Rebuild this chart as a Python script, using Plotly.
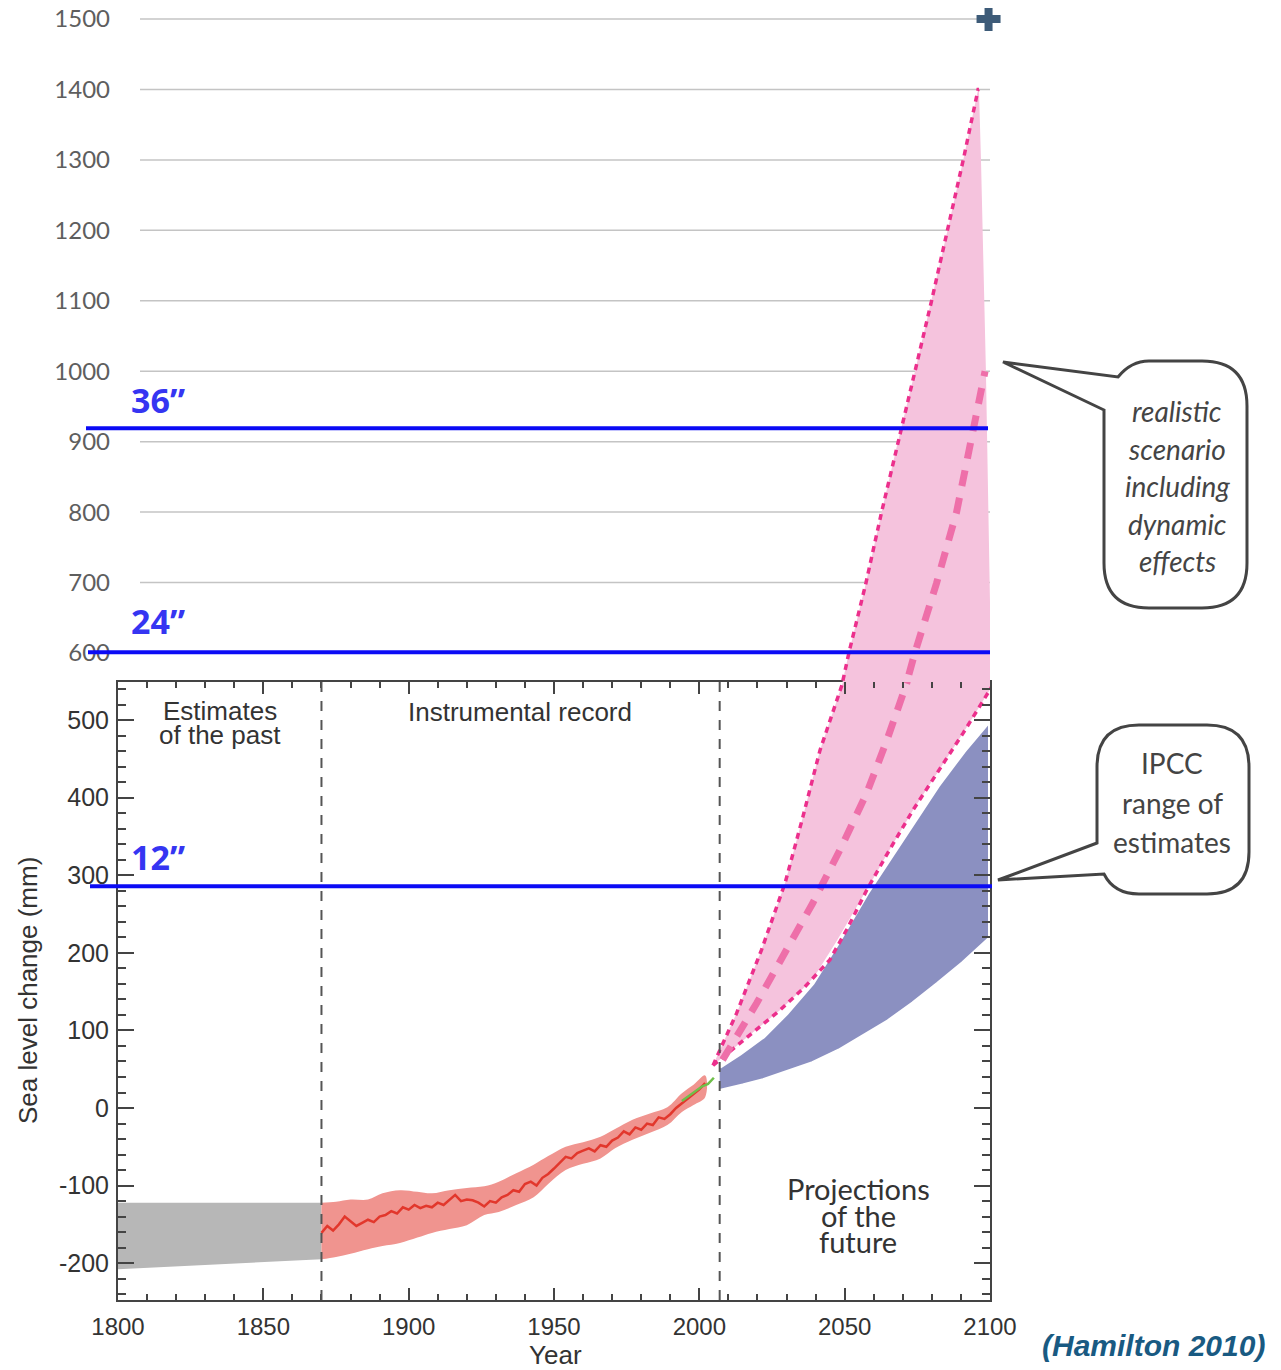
import plotly.graph_objects as go

# ---------------- data ----------------
gray_years = [1800, 1870]
gray_top = [-122, -122]
gray_bot = [-208, -195]

red_band_years = [1870, 1875, 1880, 1886, 1891, 1897, 1903, 1908, 1914, 1920, 1926, 1931, 1937, 1943, 1948, 1954, 1960, 1966, 1971, 1977, 1983, 1989, 1994, 1998, 2002]
red_band_top = [-122, -121, -118, -118, -110, -106, -108, -110, -106, -103, -101, -95, -84, -73, -62, -50, -44, -37, -27, -15, -7, 1, 19, 30, 42]
red_band_bot = [-195, -192, -188, -182, -178, -174, -167, -161, -156, -151, -138, -134, -125, -115, -98, -80, -72, -65, -52, -41, -32, -22, -5, 4, 14]

red_years = [1870, 1872, 1874, 1876, 1878, 1880, 1882, 1884, 1886, 1888, 1890, 1892, 1894, 1896, 1898,
             1900, 1902, 1904, 1906, 1908, 1910, 1912, 1914, 1916, 1918, 1920, 1922, 1924, 1926, 1928,
             1930, 1932, 1934, 1936, 1938, 1940, 1942, 1944, 1946, 1948, 1950, 1952, 1954, 1956, 1958,
             1960, 1962, 1964, 1966, 1968, 1970, 1972, 1974, 1976, 1978, 1980, 1982, 1984, 1986, 1988,
             1990, 1992, 1994, 1996, 1998, 2000, 2002]
red_vals = [-161, -152, -158, -150, -140, -146, -152, -148, -144, -147, -140, -138, -133, -136, -128,
            -131, -125, -129, -126, -128, -122, -125, -118, -112, -120, -118, -119, -122, -127, -120,
            -122, -115, -112, -106, -108, -98, -95, -100, -90, -85, -78, -70, -63, -65, -58,
            -55, -52, -56, -48, -50, -42, -38, -30, -34, -25, -28, -20, -22, -12, -14,
            -8, 0, 6, 12, 18, 24, 32]

green_years = [1994, 1997, 1999, 2001, 2003, 2005]
green_vals = [9, 17, 22, 28, 31, 39]

# IPCC range (blue)
ipcc_years = [2007, 2014, 2022, 2030, 2039, 2048, 2057.7, 2066, 2074, 2082, 2091, 2100]
ipcc_upper = [53, 70, 92, 122, 161, 215, 277, 324, 370, 415, 460, 500]
ipcc_lower_years = [2007, 2015, 2022, 2030, 2039, 2048, 2056, 2065, 2073.5, 2082, 2090.7, 2100]
ipcc_lower = [22, 29, 36, 46, 58, 74, 92, 112, 135, 160, 187, 219]

# realistic scenario (pink) - lower panel scale
hi_years = [2004.7, 2012.8, 2021.4, 2029.5, 2035.6, 2041.5, 2049.4, 2051.0]
hi_vals = [55, 122, 204, 290, 375, 461, 549, 572]
lo_years = [2004.7, 2016, 2027.7, 2036, 2044.9, 2051, 2057.6, 2065, 2073.5, 2082, 2090.7, 2100.6]
lo_vals = [55, 90, 126, 155, 191, 232, 281, 330, 384, 433, 483, 543]
mid_years = [2008, 2019.7, 2030, 2039, 2048.4, 2057.6, 2064.5, 2071.4, 2072.6]
mid_vals = [62, 135, 204, 264, 333, 406, 474, 548, 570]

# realistic scenario (pink) - upper panel scale
hi2_years = [2048.0, 2049.3, 2051.5, 2057.3, 2062.7, 2068.3, 2074.2, 2079.9, 2085.4, 2090.8, 2095.9, 2096.2]
hi2_vals = [530, 559, 601, 699, 800, 900, 1000, 1100, 1200, 1300, 1400, 1400]
edge2_years = [2096.2, 2096.9, 2098.6, 2100.6, 2100.6]
edge2_vals = [1400, 1300, 1000, 559, 530]
mid2_years = [2070.8, 2071.4, 2074.2, 2081.6, 2088.5, 2094.1, 2096.5, 2098.3]
mid2_vals = [530, 559, 601, 699, 800, 919, 965, 1000]

# reference levels (blue lines), drawn position in mm
ref_labels = ["36\u201d", "24\u201d", "12\u201d"]
ref_levels = [919, 601, 286]
ref_panel = ["y2", "y2", "y"]

upper_ticks = [600, 700, 800, 900, 1000, 1100, 1200, 1300, 1400, 1500]
upper_ticktext = ["600", "700", "800", "900", "1000", "1100", "1200", "1300", "1400", "1500"]
lower_ticks = [-200, -100, 0, 100, 200, 300, 400, 500]
lower_ticktext = ["-200", "-100", "0", "100", "200", "300", "400", "500"]
x_ticks = [1800, 1850, 1900, 1950, 2000, 2050, 2100]
divider_years = [1870, 2007]

# ---------------- geometry helpers (page pixel -> paper) ----------------
OFF = 8  # default body margin of the html page
W, H = 1281 - OFF, 1370 - OFF
PL, PR, PT, PB = 118, 990, 10, 1300
def px(x):
    return (x - PL) / (PR - PL)
def py(y):
    return (PB - y) / (PB - PT)

lower_top_frac = py(682)

fig = go.Figure()

GRAY = "#b7b7b7"
RED_BAND = "#f0948f"
RED = "#e2372c"
GREEN = "#6fbf4a"
BLUE_FILL = "#8b90c1"
PINK_FILL = "#f5c3dd"
PINK_DOT = "#ec2f8c"
PINK_MID = "#ee6fa9"

fig.add_trace(go.Scatter(x=gray_years + gray_years[::-1], y=gray_top + gray_bot[::-1],
                         fill="toself", fillcolor=GRAY, line=dict(width=0), mode="lines",
                         hoverinfo="skip", xaxis="x", yaxis="y"))
fig.add_trace(go.Scatter(x=red_band_years + red_band_years[::-1], y=red_band_top + red_band_bot[::-1],
                         fill="toself", fillcolor=RED_BAND, line=dict(width=0, shape="spline"), mode="lines",
                         hoverinfo="skip", xaxis="x", yaxis="y"))
fig.add_trace(go.Scatter(x=red_years, y=red_vals, mode="lines", line=dict(color=RED, width=2.5),
                         xaxis="x", yaxis="y"))
fig.add_trace(go.Scatter(x=green_years, y=green_vals, mode="lines", line=dict(color=GREEN, width=2.5),
                         xaxis="x", yaxis="y"))

px_poly = hi_years + [2101, 2101] + lo_years[::-1]
py_poly = hi_vals + [572, 543] + lo_vals[::-1]
fig.add_trace(go.Scatter(x=px_poly, y=py_poly, fill="toself", fillcolor=PINK_FILL, line=dict(width=0),
                         mode="lines", hoverinfo="skip", xaxis="x", yaxis="y"))
fig.add_trace(go.Scatter(x=ipcc_years + ipcc_lower_years[::-1], y=ipcc_upper + ipcc_lower[::-1],
                         fill="toself", fillcolor=BLUE_FILL, line=dict(width=4, color="white"),
                         mode="lines", hoverinfo="skip", xaxis="x", yaxis="y"))
fig.add_trace(go.Scatter(x=hi_years, y=hi_vals, mode="lines",
                         line=dict(color=PINK_DOT, width=3.5, dash="6px,5px"), xaxis="x", yaxis="y"))
fig.add_trace(go.Scatter(x=lo_years, y=lo_vals, mode="lines",
                         line=dict(color=PINK_DOT, width=3.5, dash="6px,5px"), xaxis="x", yaxis="y"))
fig.add_trace(go.Scatter(x=mid_years, y=mid_vals, mode="lines",
                         line=dict(color=PINK_MID, width=7, dash="16px,12px"), xaxis="x", yaxis="y"))

fig.add_trace(go.Scatter(x=hi2_years + edge2_years, y=hi2_vals + edge2_vals, fill="toself",
                         fillcolor=PINK_FILL, line=dict(width=0), mode="lines", hoverinfo="skip",
                         xaxis="x2", yaxis="y2"))
fig.add_trace(go.Scatter(x=hi2_years, y=hi2_vals, mode="lines",
                         line=dict(color=PINK_DOT, width=3.5, dash="6px,5px"), xaxis="x2", yaxis="y2"))
fig.add_trace(go.Scatter(x=mid2_years, y=mid2_vals, mode="lines",
                         line=dict(color=PINK_MID, width=7, dash="16px,12px"), xaxis="x2", yaxis="y2"))
fig.add_trace(go.Scatter(x=[2099.5], y=[1500], mode="markers", cliponaxis=False,
                         marker=dict(symbol="cross", size=20, color="#3d5b78"),
                         xaxis="x2", yaxis="y2"))

shapes = []
for v in upper_ticks:
    shapes.append(dict(type="line", xref="paper", yref="y2", x0=px(140), x1=px(990) if v != 1500 else px(980),
                       y0=v, y1=v, line=dict(color="#c4c4c4", width=1.5), layer="below"))
for yr in divider_years:
    shapes.append(dict(type="line", xref="x", yref="y domain", x0=yr, x1=yr, y0=0, y1=1,
                       line=dict(color="#555555", width=2, dash="10px,9px")))
ref_x = [(86, 988), (88, 990), (90, 992)]
for lvl, pan, (a, b) in zip(ref_levels, ref_panel, ref_x):
    shapes.append(dict(type="line", xref="paper", yref=pan, x0=px(a), x1=px(b), y0=lvl, y1=lvl,
                       line=dict(color="#0b0bf5", width=4)))

def P(x, y):
    return f"{px(x):.5f},{py(y):.5f}"

c1 = ("M " + P(1104, 410) + " L " + P(1003, 362) + " L " + P(1118, 377) +
      " Q " + P(1131, 361) + " " + P(1149, 361) + " L " + P(1202, 361) +
      " Q " + P(1247, 361) + " " + P(1247, 406) + " L " + P(1247, 563) +
      " Q " + P(1247, 608) + " " + P(1202, 608) + " L " + P(1149, 608) +
      " Q " + P(1104, 608) + " " + P(1104, 563) + " Z")
c2 = ("M " + P(1097, 843) + " L " + P(998, 880) + " L " + P(1104, 874) +
      " Q " + P(1114, 894) + " " + P(1139, 894) + " L " + P(1207, 894) +
      " Q " + P(1249, 894) + " " + P(1249, 852) + " L " + P(1249, 767) +
      " Q " + P(1249, 725) + " " + P(1207, 725) + " L " + P(1139, 725) +
      " Q " + P(1097, 725) + " " + P(1097, 767) + " Z")
for c in (c1, c2):
    shapes.append(dict(type="path", xref="paper", yref="paper", path=c, fillcolor="white",
                       line=dict(color="#444444", width=3)))

ann = []
def text(x, y, t, size, color="#333333", family="Liberation Sans", xanchor="center", **kw):
    ann.append(dict(x=px(x), y=py(y), xref="paper", yref="paper", text=t, showarrow=False,
                    xanchor=xanchor, yanchor="middle", font=dict(size=size, color=color, family=family), **kw))

text(220, 711, "Estimates", 26)
text(220, 735, "of the past", 26)
text(520, 712, "Instrumental record", 26)
text(858, 1188, "Projections", 29, family="Lato")
text(858, 1215, "of the", 29, family="Lato")
text(858, 1241, "future", 29, family="Lato")
text(28, 991, "Sea level change (mm)", 26, textangle=-90)
text(555, 1355, "Year", 26)
text(1153, 1345, "<b><i>(Hamilton 2010)</i></b>", 30, color="#195a82")

ref_label_y = [400, 621, 857]
for lab, yy in zip(ref_labels, ref_label_y):
    text(129, yy, "<b>" + lab + "</b>", 34, color="#3535f2", family="Open Sans", xanchor="left")

for i, t in enumerate(["realistic", "scenario", "including", "dynamic", "effects"]):
    text(1177, 411 + i * 37.5, "<i>" + t + "</i>", 28, color="#444444", family="Lato")
for t, yy in zip(["IPCC", "range of", "estimates"], [763, 803, 842]):
    text(1172, yy, t, 28, color="#444444", family="Lato")

axis_col = "#444444"
fig.update_layout(
    width=W, height=H,
    margin=dict(l=PL - OFF, r=W - (PR - OFF), t=PT - OFF, b=H - (PB - OFF), autoexpand=False),
    paper_bgcolor="white", plot_bgcolor="rgba(0,0,0,0)",
    showlegend=False,
    shapes=shapes, annotations=ann,
    xaxis=dict(domain=[0, 1], range=[1800, 2100], anchor="y", tickvals=x_ticks,
               ticks="inside", ticklen=12, tickwidth=2, tickcolor=axis_col,
               minor=dict(dtick=10, ticks="inside", ticklen=6, tickwidth=1.5, tickcolor=axis_col),
               showline=True, linecolor=axis_col, linewidth=2, mirror="ticks",
               showgrid=False, zeroline=False, automargin=False, ticklabelstandoff=4,
               ticklabeloverflow="allow",
               tickfont=dict(family="Liberation Sans", size=24, color="#333333")),
    yaxis=dict(domain=[0, lower_top_frac], range=[-247.5, 549.2], anchor="x", tickvals=lower_ticks,
               ticktext=lower_ticktext,
               ticks="inside", ticklen=16, tickwidth=2, tickcolor=axis_col,
               minor=dict(dtick=20, ticks="inside", ticklen=8, tickwidth=1.5, tickcolor=axis_col),
               showline=True, linecolor=axis_col, linewidth=2, mirror="ticks",
               showgrid=False, zeroline=False, automargin=False, ticklabelstandoff=2,
               ticklabeloverflow="allow",
               tickfont=dict(family="Liberation Sans", size=25, color="#333333")),
    xaxis2=dict(domain=[0, 1], range=[1800, 2100], anchor="y2", matches="x", visible=False,
                automargin=False),
    yaxis2=dict(domain=[lower_top_frac, 1], range=[558.8, 1512.8], anchor="x2",
                tickvals=upper_ticks, ticktext=upper_ticktext, ticks="", showline=False,
                showgrid=False, zeroline=False, automargin=False, ticklabelstandoff=7,
                ticklabeloverflow="allow",
                tickfont=dict(family="Lato", size=24, color="#5e5e5e")),
)

fig.write_html("out.html")
